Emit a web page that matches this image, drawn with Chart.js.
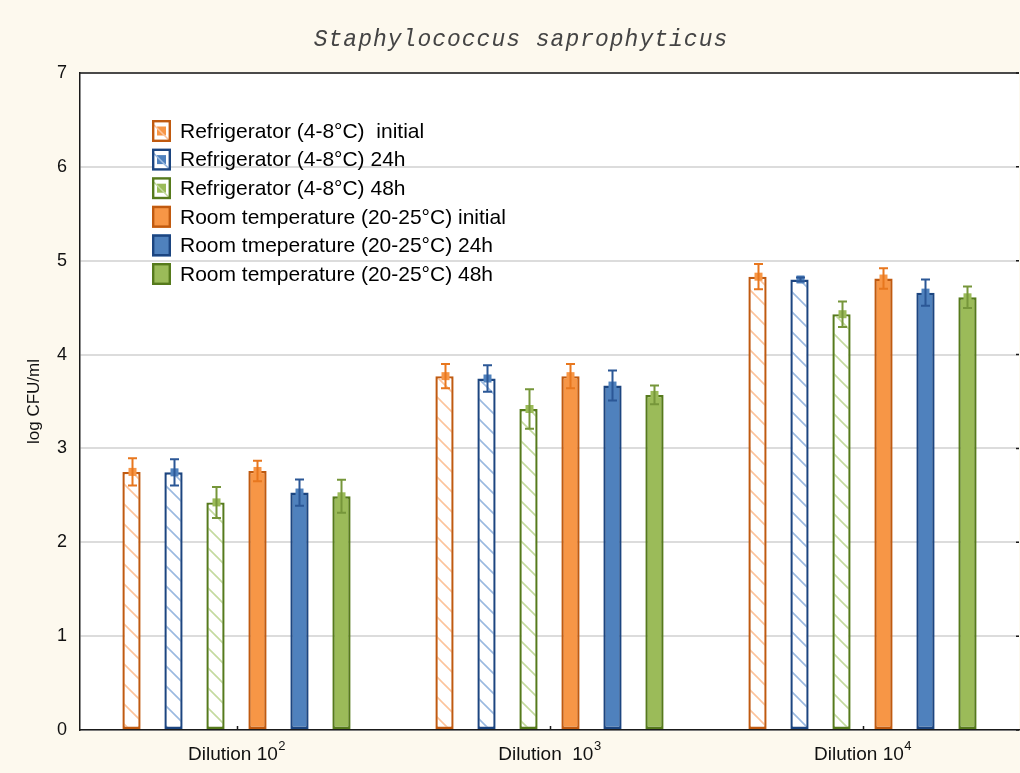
<!DOCTYPE html>
<html>
<head>
<meta charset="utf-8">
<script src="https://cdn.jsdelivr.net/npm/chart.js@4.4.1/dist/chart.umd.min.js"></script>
<style>
  html, body { margin: 0; padding: 0; background: #fdf9ee; }
  #wrap { width: 1020px; height: 773px; }
</style>
</head>
<body>
<div id="wrap"><canvas id="c" width="1020" height="773"></canvas></div>
<script>
// Dilution groups on the x axis
const dilutionText = ['Dilution 10', 'Dilution  10', 'Dilution 10'];
const dilutionExp = ['2', '3', '4'];
const categories = ['Dilution 10^2', 'Dilution 10^3', 'Dilution 10^4'];

// Series names
const seriesNames = [
  'Refrigerator (4-8°C)  initial',
  'Refrigerator (4-8°C) 24h',
  'Refrigerator (4-8°C) 48h',
  'Room temperature (20-25°C) initial',
  'Room tmeperature (20-25°C) 24h',
  'Room temperature (20-25°C) 48h'
];

// Mean log CFU/ml
const fridgeInitial = [2.75, 3.77, 4.83];
const fridge24h     = [2.745, 3.745, 4.80];
const fridge48h     = [2.425, 3.42, 4.43];
const roomInitial   = [2.76, 3.77, 4.81];
const room24h       = [2.53, 3.67, 4.66];
const room48h       = [2.49, 3.57, 4.61];

// Standard deviations
const fridgeInitialSd = [0.145, 0.13, 0.135];
const fridge24hSd     = [0.14, 0.14, 0.02];
const fridge48hSd     = [0.165, 0.21, 0.135];
const roomInitialSd   = [0.11, 0.13, 0.11];
const room24hSd       = [0.14, 0.16, 0.14];
const room48hSd       = [0.175, 0.10, 0.115];

const yTicks = [0, 1, 2, 3, 4, 5, 6, 7];

const palette = {
  orange: { fill: '#f79646', border: '#c05a10', hatch: '#fcc49c', err: '#e8771e' },
  blue:   { fill: '#4f81bd', border: '#1c4580', hatch: '#9ab9e0', err: '#2b5796' },
  green:  { fill: '#9bbb59', border: '#567a1c', hatch: '#c4da9f', err: '#76963a' }
};

function hatchPattern(color) {
  const s = 20;
  const c = document.createElement('canvas');
  c.width = s; c.height = s;
  const g = c.getContext('2d');
  g.fillStyle = '#ffffff';
  g.fillRect(0, 0, s, s);
  g.strokeStyle = color;
  g.lineWidth = 1.6;
  g.beginPath();
  g.moveTo(-2, -2); g.lineTo(s + 2, s + 2);
  g.moveTo(-2, s - 2); g.lineTo(2, s + 2);
  g.moveTo(s - 2, -2); g.lineTo(s + 2, 2);
  g.stroke();
  return g.createPattern(c, 'repeat');
}

const seriesValues = [fridgeInitial, fridge24h, fridge48h, roomInitial, room24h, room48h];
const seriesSd = [fridgeInitialSd, fridge24hSd, fridge48hSd, roomInitialSd, room24hSd, room48hSd];
const seriesColor = [palette.orange, palette.blue, palette.green, palette.orange, palette.blue, palette.green];
const seriesHatched = [true, true, true, false, false, false];

const datasets = seriesNames.map((name, i) => ({
  label: name,
  data: seriesValues[i],
  sd: seriesSd[i],
  hatched: seriesHatched[i],
  colors: seriesColor[i],
  backgroundColor: seriesHatched[i] ? hatchPattern(seriesColor[i].hatch) : seriesColor[i].fill,
  borderColor: seriesColor[i].border,
  borderWidth: 2.4,
  borderSkipped: false,
  barPercentage: 0.435,
  categoryPercentage: 0.805
}));

const PLOT_LEFT = 80, PLOT_TOP = 73, PLOT_BOTTOM = 730;

const backdrop = {
  id: 'backdrop',
  beforeDraw(chart) {
    const { ctx, chartArea: a } = chart;
    ctx.save();
    ctx.fillStyle = '#fdf9ee';
    ctx.fillRect(0, 0, chart.width, chart.height);
    ctx.fillStyle = '#ffffff';
    ctx.fillRect(a.left, a.top, a.right - a.left, a.bottom - a.top);
    ctx.restore();
  }
};

const errorBars = {
  id: 'errorBars',
  afterDatasetsDraw(chart) {
    const { ctx } = chart;
    const y = chart.scales.y;
    chart.data.datasets.forEach((ds, di) => {
      const meta = chart.getDatasetMeta(di);
      meta.data.forEach((bar, i) => {
        const v = ds.data[i], e = ds.sd[i];
        const x = Math.round(bar.x) + 0.5;
        const yt = y.getPixelForValue(v + e);
        const yb = y.getPixelForValue(v - e);
        const ym = y.getPixelForValue(v);
        ctx.save();
        ctx.fillStyle = ds.colors.fill;
        ctx.fillRect(x - 4, ym - 4, 8, 8);
        ctx.strokeStyle = ds.colors.err;
        ctx.lineWidth = 2;
        ctx.beginPath();
        ctx.moveTo(x, yt); ctx.lineTo(x, yb);
        ctx.moveTo(x - 4.5, yt); ctx.lineTo(x + 4.5, yt);
        ctx.moveTo(x - 4.5, yb); ctx.lineTo(x + 4.5, yb);
        ctx.stroke();
        ctx.restore();
      });
    });
  }
};

const frame = {
  id: 'frame',
  afterDraw(chart) {
    const { ctx, chartArea: a } = chart;
    const x = chart.scales.x, y = chart.scales.y;
    ctx.save();
    ctx.strokeStyle = '#1a1a1a';
    ctx.lineWidth = 1.5;
    ctx.beginPath();
    ctx.moveTo(a.left, a.top); ctx.lineTo(a.right, a.top);
    ctx.stroke();
    // small inward ticks on the category axis and right edge
    ctx.lineWidth = 1.5;
    ctx.beginPath();
    categories.forEach((c, i) => {
      const px = Math.round(x.getPixelForValue(i)) + 0.5;
      ctx.moveTo(px, a.bottom); ctx.lineTo(px, a.bottom - 4);
    });
    yTicks.forEach(t => {
      const py = y.getPixelForValue(t);
      ctx.moveTo(a.right, py); ctx.lineTo(a.right - 3, py);
    });
    ctx.stroke();

    // category labels with superscript exponent
    ctx.fillStyle = '#111';
    ctx.textBaseline = 'alphabetic';
    const mainFont = '19px "Liberation Sans", Arial, sans-serif';
    const supFont = '13px "Liberation Sans", Arial, sans-serif';
    categories.forEach((c, i) => {
      const px = x.getPixelForValue(i);
      ctx.font = mainFont;
      const w1 = ctx.measureText(dilutionText[i]).width;
      ctx.font = supFont;
      const w2 = ctx.measureText(dilutionExp[i]).width;
      const start = px - (w1 + w2) / 2;
      ctx.font = mainFont;
      ctx.textAlign = 'left';
      ctx.fillText(dilutionText[i], start, 760);
      ctx.font = supFont;
      ctx.fillText(dilutionExp[i], start + w1 + 0.5, 750);
    });

    // title
    ctx.fillStyle = '#444';
    ctx.font = 'italic 23px "Liberation Mono", "DejaVu Sans Mono", monospace';
    ctx.textAlign = 'center';
    ctx.textBaseline = 'middle';
    if ('letterSpacing' in ctx) ctx.letterSpacing = '1px';
    ctx.fillText('Staphylococcus saprophyticus', 521, 40);
    if ('letterSpacing' in ctx) ctx.letterSpacing = '0px';

    // legend
    const lx = 152, ly0 = 131, step = 28.6, bw = 19, bh = 22;
    chart.data.datasets.forEach((ds, i) => {
      const cy = ly0 + i * step;
      const bx = lx, by = cy - bh / 2;
      ctx.lineWidth = 2.4;
      ctx.strokeStyle = ds.colors.border;
      if (ds.hatched) {
        ctx.fillStyle = '#ffffff';
        ctx.fillRect(bx, by, bw, bh);
        ctx.fillStyle = ds.colors.fill;
        ctx.fillRect(bx + 5, cy - 4.5, 9, 9);
        ctx.save();
        ctx.strokeStyle = ds.colors.hatch;
        ctx.lineWidth = 1.5;
        ctx.beginPath();
        ctx.moveTo(bx + 2, by + 5); ctx.lineTo(bx + bw - 2, by + bh - 2);
        ctx.stroke();
        ctx.restore();
        ctx.strokeRect(bx + 1.2, by + 1.2, bw - 2.4, bh - 2.4);
      } else {
        ctx.fillStyle = ds.colors.fill;
        ctx.fillRect(bx, by, bw, bh);
        ctx.strokeRect(bx + 1.2, by + 1.2, bw - 2.4, bh - 2.4);
      }
      ctx.fillStyle = '#000';
      ctx.font = '21px "Liberation Sans", Arial, sans-serif';
      ctx.textAlign = 'left';
      ctx.textBaseline = 'middle';
      ctx.fillText(ds.label, 180, cy + 1);
    });
    ctx.restore();
  }
};

new Chart(document.getElementById('c'), {
  type: 'bar',
  data: { labels: categories, datasets },
  options: {
    responsive: false,
    devicePixelRatio: 1,
    animation: false,
    layout: { padding: { top: PLOT_TOP, right: 1, left: 0, bottom: 0 } },
    plugins: { legend: { display: false }, tooltip: { enabled: false }, title: { display: false } },
    scales: {
      x: {
        grid: { display: false, drawTicks: false },
        border: { display: true, color: '#1a1a1a', width: 1.5 },
        ticks: { display: false },
        afterFit(s) { s.height = 773 - PLOT_BOTTOM; }
      },
      y: {
        min: 0, max: 7,
        afterBuildTicks(s) { s.ticks = yTicks.map(v => ({ value: v })); },
        grid: { color: '#dcdcdc', lineWidth: 2, drawTicks: false },
        border: { display: true, color: '#1a1a1a', width: 1.5 },
        ticks: {
          padding: 13,
          color: '#111',
          font: { family: '"Liberation Sans", Arial, sans-serif', size: 18 }
        },
        title: {
          display: true,
          text: 'log CFU/ml',
          color: '#111',
          font: { family: '"Liberation Sans", Arial, sans-serif', size: 17 },
          padding: { top: 24, bottom: 0 }
        },
        afterFit(s) { s.width = PLOT_LEFT; }
      }
    }
  },
  plugins: [backdrop, errorBars, frame]
});
</script>
</body>
</html>
